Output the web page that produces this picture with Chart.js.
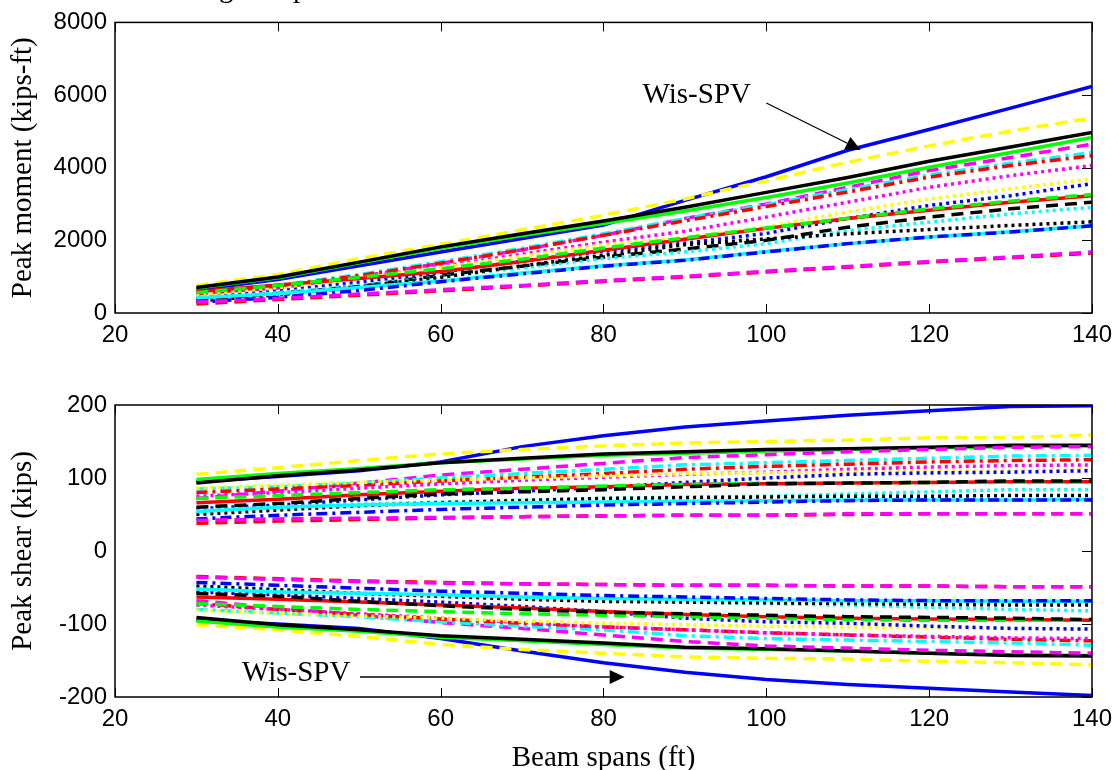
<!DOCTYPE html>
<html lang="en">
<head>
<meta charset="UTF-8" />
<title>Peak moment and shear vs beam span</title>
<script src="https://cdn.jsdelivr.net/npm/chart.js"></script>
<style>
  body { margin: 0; background: #fff; }
  #wrap { position: relative; width: 1120px; height: 770px; overflow: hidden; background: #fff; }
  canvas { position: absolute; left: 0; }
  #momentChart { top: 0; }
  #shearChart { top: 360px; }
</style>
</head>
<body>
<div id="wrap">
  <canvas id="momentChart" width="1120" height="360"></canvas>
  <canvas id="shearChart" width="1120" height="410"></canvas>
</div>
<script>
// beam spans (ft) where each curve was sampled
const spans = [30, 40, 50, 60, 70, 80, 90, 100, 110, 120, 130, 140];

const xTickValues = [20, 40, 60, 80, 100, 120, 140];
const momentTickValues = [0, 2000, 4000, 6000, 8000];
const shearTickValues = [-200, -100, 0, 100, 200];

// peak moment (kips-ft)
const mBlueSolid    = [640, 920, 1300, 1680, 2050, 2420, 3100, 3750, 4480, 5050, 5640, 6240];
const mYellowDash   = [760, 1060, 1500, 1890, 2290, 2690, 3140, 3640, 4150, 4600, 5010, 5370];
const mBlackSolid   = [700, 990, 1400, 1820, 2180, 2530, 2910, 3320, 3730, 4180, 4570, 4970];
const mGreenSolid   = [690, 970, 1380, 1780, 2130, 2460, 2810, 3180, 3580, 4010, 4420, 4830];
const mMagentaDash  = [540, 690, 1000, 1370, 1740, 2140, 2600, 3000, 3460, 3920, 4280, 4650];
const mCyanDashDot  = [560, 760, 1060, 1410, 1780, 2180, 2600, 2980, 3400, 3800, 4120, 4420];
const mRedDashDot   = [520, 740, 1030, 1370, 1740, 2140, 2540, 2930, 3330, 3740, 4060, 4330];
const mMagentaDot   = [480, 690, 960, 1280, 1620, 1950, 2250, 2640, 3050, 3460, 3780, 4060];
const mYellowDot    = [480, 680, 950, 1250, 1560, 1880, 2080, 2370, 2780, 3140, 3420, 3690];
const mBlueDot      = [400, 600, 850, 1120, 1430, 1700, 1920, 2190, 2600, 2960, 3230, 3560];
const mRedSolid     = [590, 770, 950, 1140, 1420, 1730, 2030, 2330, 2600, 2830, 3050, 3230];
const mGreenDash    = [560, 760, 980, 1220, 1480, 1790, 2070, 2340, 2610, 2860, 3080, 3260];
const mBlackDash    = [370, 540, 730, 1040, 1290, 1540, 1760, 2000, 2360, 2640, 2870, 3050];
const mCyanDot      = [390, 560, 760, 1000, 1240, 1500, 1680, 1910, 2270, 2500, 2730, 2910];
const mBlackDot     = [330, 500, 720, 980, 1300, 1590, 1880, 2040, 2180, 2300, 2410, 2510];
const mBlueDashDot  = [300, 430, 620, 860, 1080, 1290, 1450, 1680, 1910, 2090, 2230, 2400];
const mCyanSolid    = [420, 530, 700, 880, 1100, 1300, 1460, 1690, 1910, 2090, 2240, 2400];
const mMagentaDash2 = [300, 400, 520, 640, 760, 890, 1010, 1150, 1280, 1420, 1540, 1680];
const mRedDash      = [250, 370, 490, 610, 740, 870, 990, 1130, 1260, 1400, 1520, 1650];

// peak positive shear (kips)
const vpBlueSolid    = [95, 102, 110, 122, 143, 158, 170, 178, 186, 192, 198, 199];
const vpYellowDash   = [105, 114, 124, 133, 139, 144, 148, 150, 152, 155, 155, 159];
const vpBlackSolid   = [93, 103, 111, 121, 127, 133, 136, 139, 140, 142, 145, 145];
const vpGreenSolid   = [98, 106, 113, 121, 126, 131, 134, 137, 139, 141, 143, 144];
const vpMagentaDash  = [72, 82, 93, 104, 112, 120, 128, 132, 136, 139, 142, 143];
const vpCyanDashDot  = [85, 88, 93, 100, 106, 112, 118, 121, 124, 127, 130, 131];
const vpRedDashDot   = [80, 85, 90, 96, 101, 106, 112, 116, 119, 122, 124, 125];
const vpMagentaDot   = [75, 80, 86, 92, 97, 101, 105, 108, 112, 115, 117, 118];
const vpYellowDot    = [86, 90, 94, 97, 100, 103, 106, 107, 108, 109, 110, 111];
const vpBlueDot      = [58, 63, 70, 77, 82, 87, 94, 100, 105, 107, 108, 110];
const vpRedSolid     = [66, 71, 77, 82, 86, 88, 91, 92, 93, 94, 95, 95];
const vpGreenDash    = [72, 76, 80, 84, 86, 89, 91, 93, 93, 94, 95, 95];
const vpBlackDash    = [60, 65, 72, 78, 81, 84, 88, 92, 93, 94, 96, 96];
const vpCyanDot      = [55, 60, 64, 67, 70, 72, 74, 75, 78, 81, 84, 84];
const vpBlackDot     = [50, 56, 62, 66, 69, 72, 73, 74, 75, 75, 76, 76];
const vpBlueDashDot  = [44, 49, 53, 57, 60, 63, 65, 67, 69, 70, 70, 70];
const vpCyanSolid    = [54, 60, 63, 65, 66, 67, 68, 69, 70, 70, 70, 71];
const vpMagentaDash2 = [42, 44, 45, 46, 47, 48, 49, 49, 51, 51, 51, 51];
const vpRedDash      = [38, 41, 43, 45, 47, 48, 49, 49, 50, 51, 51, 51];

// peak negative shear (kips)
const vnBlueSolid    = [-95, -100, -106, -120, -137, -153, -166, -176, -183, -188, -193, -198];
const vnYellowDash   = [-101, -108, -117, -128, -135, -140, -145, -147, -148, -151, -153, -156];
const vnBlackSolid   = [-91, -101, -108, -116, -121, -126, -132, -134, -137, -140, -143, -144];
const vnGreenSolid   = [-96, -104, -110, -118, -123, -128, -133, -135, -137, -140, -142, -143];
const vnMagentaDash  = [-68, -78, -88, -98, -106, -115, -124, -130, -133, -136, -138, -140];
const vnCyanDashDot  = [-80, -85, -90, -97, -103, -108, -116, -120, -122, -124, -126, -129];
const vnRedDashDot   = [-72, -80, -87, -93, -99, -104, -108, -112, -115, -118, -121, -123];
const vnMagentaDot   = [-74, -80, -86, -92, -98, -104, -108, -112, -115, -117, -119, -120];
const vnYellowDot    = [-81, -85, -89, -92, -96, -99, -101, -103, -104, -105, -106, -107];
const vnBlueDot      = [-56, -60, -65, -70, -76, -83, -92, -97, -99, -103, -106, -107];
const vnRedSolid     = [-63, -66, -70, -74, -78, -83, -87, -90, -92, -93, -94, -95];
const vnGreenDash    = [-72, -76, -80, -83, -86, -88, -90, -92, -94, -95, -95, -95];
const vnBlackDash    = [-58, -62, -69, -75, -80, -84, -86, -88, -90, -91, -92, -94];
const vnCyanDot      = [-50, -54, -58, -62, -65, -68, -70, -72, -74, -77, -80, -82];
const vnBlackDot     = [-48, -53, -58, -62, -66, -69, -70, -71, -72, -73, -74, -74];
const vnBlueDashDot  = [-43, -47, -51, -55, -58, -61, -63, -65, -67, -68, -68, -68];
const vnCyanSolid    = [-52, -56, -58, -60, -63, -65, -66, -67, -68, -68, -69, -69];
const vnMagentaDash2 = [-36, -39, -42, -44, -45, -46, -47, -47, -48, -48, -49, -49];
const vnRedDash      = [-35, -38, -41, -43, -45, -46, -47, -47, -48, -48, -49, -49];

// listed in drawing order: first at the bottom, last on top
const momentSeries = [mBlueSolid, mYellowDash, mGreenSolid, mBlackSolid, mMagentaDash, mCyanDashDot,
  mRedDashDot, mMagentaDot, mYellowDot, mBlueDot, mRedSolid, mGreenDash, mBlackDash, mCyanDot,
  mBlackDot, mCyanSolid, mBlueDashDot, mRedDash, mMagentaDash2];
const posShearSeries = [vpBlueSolid, vpYellowDash, vpGreenSolid, vpBlackSolid, vpMagentaDash, vpCyanDashDot,
  vpRedDashDot, vpMagentaDot, vpYellowDot, vpBlueDot, vpRedSolid, vpGreenDash, vpBlackDash, vpCyanDot,
  vpBlackDot, vpCyanSolid, vpBlueDashDot, vpRedDash, vpMagentaDash2];
const negShearSeries = [vnBlueSolid, vnYellowDash, vnGreenSolid, vnBlackSolid, vnMagentaDash, vnCyanDashDot,
  vnRedDashDot, vnMagentaDot, vnYellowDot, vnBlueDot, vnRedSolid, vnGreenDash, vnBlackDash, vnCyanDot,
  vnBlackDot, vnCyanSolid, vnBlueDashDot, vnRedDash, vnMagentaDash2];

// line styles, same order as the series lists
const SOLID = [], DASH = [12, 7], DOT = [3, 4], DASHDOT = [11, 5, 3, 5];
const lineStyles = [
  ['#0000ff', SOLID], ['#ffff00', DASH], ['#00ff00', SOLID], ['#000000', SOLID],
  ['#ff00ff', DASH], ['#00ffff', DASHDOT], ['#ff0000', DASHDOT], ['#ff00ff', DOT],
  ['#ffff00', DOT], ['#0000ff', DOT], ['#ff0000', SOLID], ['#00ff00', DASH],
  ['#000000', DASH], ['#00ffff', DOT], ['#000000', DOT], ['#00ffff', SOLID],
  ['#0000ff', DASHDOT], ['#ff0000', DASH], ['#ff00ff', DASH]
];

const TICK_FONT = { family: "'Liberation Sans', Arial, sans-serif", size: 24 };
const SERIF = "'Liberation Serif', 'Times New Roman', serif";

function toDatasets(list) {
  // first series at the bottom, later ones drawn over it
  return list.map((vals, i) => ({
    data: vals.map((v, j) => ({ x: spans[j], y: v })),
    borderColor: lineStyles[i][0],
    borderDash: lineStyles[i][1],
    borderWidth: 3.5,
    pointRadius: 0,
    fill: false,
    tension: 0,
    order: list.length - i
  }));
}

function scalesFor(yMin, yMax, yTicks, yTitle, xTitle, xHeight) {
  return {
    x: {
      type: 'linear', min: 20, max: 140,
      afterBuildTicks: s => { s.ticks = xTickValues.map(v => ({ value: v })); },
      afterFit: s => { s.height = xHeight; },
      grid: { display: false, drawTicks: false },
      border: { display: false },
      ticks: { color: '#000', font: TICK_FONT, padding: 8, maxRotation: 0, autoSkip: false,
               callback: v => String(v) },
      title: { display: !!xTitle, text: xTitle || '', color: '#000',
               font: { family: SERIF, size: 29, lineHeight: 1 }, padding: { top: 0, bottom: -3 } }
    },
    y: {
      min: yMin, max: yMax,
      afterBuildTicks: s => { s.ticks = yTicks.map(v => ({ value: v })); },
      afterFit: s => { s.width = 115; },
      grid: { display: false, drawTicks: false },
      border: { display: false },
      ticks: { color: '#000', font: TICK_FONT, padding: 8, callback: v => String(v) },
      title: { display: true, text: yTitle, color: '#000',
               font: { family: SERIF, size: 29 }, padding: { top: 6, bottom: 0 } }
    }
  };
}

// axes box with inward ticks (bottom, top, right), like the original figure
const boxTicks = {
  id: 'boxTicks',
  afterDatasetsDraw(chart) {
    const { ctx, chartArea: a, scales: { x, y } } = chart;
    ctx.save();
    ctx.strokeStyle = '#000';
    ctx.lineWidth = 1;
    ctx.beginPath();
    x.ticks.forEach(t => {
      const px = Math.round(x.getPixelForValue(t.value)) + 0.5;
      ctx.moveTo(px, a.bottom); ctx.lineTo(px, a.bottom - 9);
      ctx.moveTo(px, a.top); ctx.lineTo(px, a.top + 9);
    });
    y.ticks.forEach(t => {
      const py = Math.round(y.getPixelForValue(t.value)) + 0.5;
      ctx.moveTo(a.right, py); ctx.lineTo(a.right - 10, py);
    });
    ctx.stroke();
    ctx.lineWidth = 1.5;
    ctx.strokeRect(a.left, a.top, a.right - a.left, a.bottom - a.top);
    ctx.restore();
  }
};

// "Wis-SPV" label with an arrow, placed in data units
function notePlugin(note) {
  return {
    id: 'note',
    afterDraw(chart) {
      const { ctx, scales: { x, y } } = chart;
      ctx.save();
      ctx.fillStyle = '#000';
      ctx.strokeStyle = '#000';
      ctx.font = `29px ${SERIF}`;
      ctx.textBaseline = 'alphabetic';
      ctx.fillText(note.text, x.getPixelForValue(note.textX), y.getPixelForValue(note.textY));
      const x0 = x.getPixelForValue(note.fromX), y0 = y.getPixelForValue(note.fromY);
      const x1 = x.getPixelForValue(note.toX), y1 = y.getPixelForValue(note.toY);
      const ang = Math.atan2(y1 - y0, x1 - x0);
      const hl = 15, hw = 7;
      ctx.lineWidth = 1.3;
      ctx.beginPath();
      ctx.moveTo(x0, y0);
      ctx.lineTo(x1 - hl * Math.cos(ang), y1 - hl * Math.sin(ang));
      ctx.stroke();
      ctx.beginPath();
      ctx.moveTo(x1, y1);
      ctx.lineTo(x1 - hl * Math.cos(ang) + hw * Math.sin(ang), y1 - hl * Math.sin(ang) - hw * Math.cos(ang));
      ctx.lineTo(x1 - hl * Math.cos(ang) - hw * Math.sin(ang), y1 - hl * Math.sin(ang) + hw * Math.cos(ang));
      ctx.closePath();
      ctx.fill();
      if (note.clipped) {
        // bottom of a title line that was cut off above the figure
        note.clipped.forEach(c => ctx.fillText(c[0], c[1], c[2]));
      }
      ctx.restore();
    }
  };
}

const baseOptions = {
  responsive: false,
  animation: false,
  events: [],
  plugins: { legend: { display: false }, tooltip: { enabled: false } }
};

new Chart(document.getElementById('momentChart'), {
  type: 'line',
  data: { datasets: toDatasets(momentSeries) },
  options: Object.assign({}, baseOptions, {
    layout: { padding: { left: 0, right: 27, top: 21, bottom: 0 } },
    scales: scalesFor(0, 8000, momentTickValues, 'Peak moment (kips-ft)', null, 47)
  }),
  plugins: [boxTicks, notePlugin({
    text: 'Wis-SPV', textX: 84.8, textY: 5780,
    fromX: 100.0, fromY: 5780, toX: 111.6, toY: 4490,
    clipped: [['g', 219, -3], ['p', 293, -3]]
  })]
});

new Chart(document.getElementById('shearChart'), {
  type: 'line',
  data: { datasets: toDatasets(posShearSeries).concat(toDatasets(negShearSeries)) },
  options: Object.assign({}, baseOptions, {
    layout: { padding: { left: 0, right: 27, top: 45, bottom: 0 } },
    scales: scalesFor(-200, 200, shearTickValues, 'Peak shear (kips)', 'Beam spans (ft)', 73)
  }),
  plugins: [boxTicks, notePlugin({
    text: 'Wis-SPV', textX: 35.6, textY: -178,
    fromX: 50.1, fromY: -172.6, toX: 82.6, toY: -172.6
  })]
});
</script>
</body>
</html>
